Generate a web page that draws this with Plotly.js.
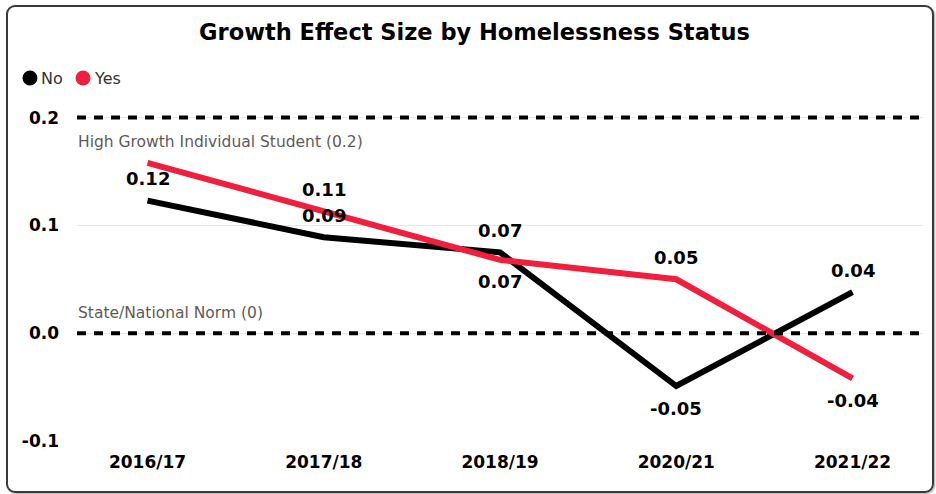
<!DOCTYPE html>
<html>
<head>
<meta charset="utf-8">
<script src="https://cdn.plot.ly/plotly-3.0.1.min.js"></script>
<style>
html,body{margin:0;padding:0;background:#fff;}
#wrap{position:relative;width:936px;height:494px;}
#chart{position:absolute;left:0;top:0;width:936px;height:494px;}
#frame{position:absolute;left:6px;top:5px;width:924px;height:484px;border:2px solid #3a3a3a;border-radius:9px;pointer-events:none;box-shadow:1px 1px 2px rgba(0,0,0,0.35);}
</style>
</head>
<body>
<div id="wrap"><div id="chart"></div><div id="frame"></div></div>
<script>
const years = ["2016/17", "2017/18", "2018/19", "2020/21", "2021/22"];
const seriesNames = ["No", "Yes"];
const noValues = [0.123, 0.089, 0.075, -0.049, 0.038];
const yesValues = [0.158, 0.113, 0.068, 0.050, -0.042];
const noLabels = ["0.12", "0.09", "0.07", "-0.05", "0.04"];
const yesLabels = ["", "0.11", "0.07", "0.05", "-0.04"];
const noLabelSide = [1, 1, 1, -1, 1];
const yesLabelSide = [1, 1, -1, 1, -1];
const yTicks = [-0.1, 0.0, 0.1, 0.2];
const yTickText = ["-0.1", "0.0", "0.1", "0.2"];
const refLines = [
  {value: 0.2, label: "High Growth Individual Student (0.2)", shift: -24},
  {value: 0.0, label: "State/National Norm (0)", shift: 20}
];
const colNo = "#000000";
const colYes = "#F01F3D";
const colors = [colNo, colYes];

const traces = [
  {x: years, y: noValues, type: "scatter", mode: "lines", name: seriesNames[0], line: {color: colNo, width: 6}, showlegend: false, hoverinfo: "skip"},
  {x: years, y: yesValues, type: "scatter", mode: "lines", name: seriesNames[1], line: {color: colYes, width: 6}, showlegend: false, hoverinfo: "skip"}
];

const annotations = [];
const shapes = [];
const labelFont = {family: "DejaVu Sans", size: 18, color: "#000", weight: "bold"};
function addLabels(vals, labs, sides) {
  vals.forEach((v, i) => {
    if (!labs[i]) return;
    annotations.push({x: years[i], y: v, xref: "x", yref: "y", text: "<b>" + labs[i] + "</b>", showarrow: false,
      font: labelFont, yshift: sides[i] * 22});
  });
}
addLabels(noValues, noLabels, noLabelSide);
addLabels(yesValues, yesLabels, yesLabelSide);

refLines.forEach(r => {
  shapes.push({type: "line", xref: "paper", x0: 0, x1: 1, yref: "y", y0: r.value, y1: r.value,
    line: {color: "#000", width: 4, dash: "9px,8px"}, layer: "above"});
  annotations.push({xref: "paper", x: 0, yref: "y", y: r.value, text: r.label, showarrow: false,
    xanchor: "left", yanchor: "middle", yshift: r.shift, xshift: 0, borderpad: 0,
    font: {family: "DejaVu Sans", size: 15.5, color: "#5f5b58"}});
});

// legend (circle + name), placed in paper coordinates
const legendX = [-0.0556, 0.0071];
const legendY = 1.052;
seriesNames.forEach((n, i) => {
  shapes.push({type: "circle", xref: "paper", yref: "paper", xsizemode: "pixel", ysizemode: "pixel",
    xanchor: legendX[i], yanchor: legendY, x0: -7.5, x1: 7.5, y0: -7.5, y1: 7.5,
    fillcolor: colors[i], line: {width: 0}});
  annotations.push({xref: "paper", yref: "paper", x: legendX[i], y: legendY, xshift: 10, xanchor: "left", yanchor: "middle",
    text: n, showarrow: false, borderpad: 0, font: {family: "DejaVu Sans", size: 16, color: "#333"}});
});

const layout = {
  width: 936, height: 494,
  margin: {l: 77, r: 13, t: 96, b: 53},
  paper_bgcolor: "#fff", plot_bgcolor: "#fff",
  title: {text: "<b>Growth Effect Size by Homelessness Status</b>", x: 0.507, xanchor: "center", y: 0.935, yanchor: "middle",
    font: {family: "DejaVu Sans", size: 22.5, color: "#000"}},
  showlegend: false,
  xaxis: {type: "category", range: [-0.4, 4.4], showgrid: false, zeroline: false, showline: false, ticks: "",
    tickfont: {family: "DejaVu Sans", size: 17, color: "#000", weight: "bold"}, ticklabelstandoff: 9, fixedrange: true},
  yaxis: {range: [-0.1, 0.22], tickvals: yTicks, ticktext: yTickText, showgrid: true, gridcolor: "#e8e8e8", gridwidth: 1,
    zeroline: false, showline: false, ticks: "", tickfont: {family: "DejaVu Sans", size: 17, color: "#000", weight: "bold"},
    ticklabelstandoff: 17, fixedrange: true},
  shapes: shapes,
  annotations: annotations
};

Plotly.newPlot("chart", traces, layout, {displayModeBar: false, staticPlot: true});
</script>
</body>
</html>
